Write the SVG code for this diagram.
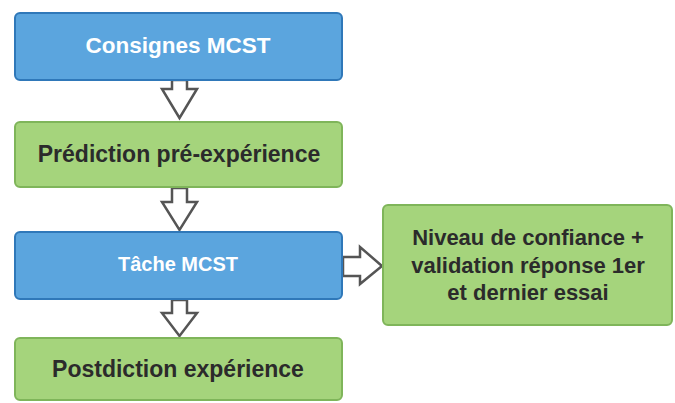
<svg xmlns="http://www.w3.org/2000/svg" width="675" height="403" viewBox="0 0 675 403">
<style>
.blue{fill:#5ba5de;stroke:#2f78b9;stroke-width:2}
.green{fill:#a5d47c;stroke:#7fb55a;stroke-width:2}
.wt{fill:#fff;font-family:"Liberation Sans",Arial,sans-serif;font-weight:bold;text-anchor:middle}
.dt{fill:#2b2b2b;font-family:"Liberation Sans",Arial,sans-serif;font-weight:bold;text-anchor:middle}
.arr{fill:#fff;stroke:#555;stroke-width:2.5;stroke-linejoin:miter}
</style>
<rect width="675" height="403" fill="#fff"/>
<g id="connectors">
<polygon class="arr" points="172,80 187,80 187,89 197,89 179.5,118 162,89 172,89"/>
<polygon class="arr" points="172,188 187,188 187,202 197,202 179.5,230 162,202 172,202"/>
<polygon class="arr" points="172,300 187,300 187,313 197,313 179.5,336 162,313 172,313"/>
<polygon class="arr" points="343,257 360,257 360,247 382,266 360,284 360,276 343,276"/>
</g>
<g id="n1"><rect class="blue" x="15" y="13" width="327" height="67" rx="5"/><text class="wt" x="178" y="53" font-size="22.5">Consignes MCST</text></g>
<g id="n2"><rect class="green" x="15" y="122" width="327" height="65" rx="5"/><text class="dt" x="179" y="162" font-size="23">Prédiction pré-expérience</text></g>
<g id="n3"><rect class="blue" x="15" y="232" width="327" height="67" rx="5"/><text class="wt" x="178" y="271" font-size="20">Tâche MCST</text></g>
<g id="n4"><rect class="green" x="15" y="338" width="327" height="62" rx="5"/><text class="dt" x="178" y="377" font-size="23">Postdiction expérience</text></g>
<g id="n5" font-size="22"><rect class="green" x="383" y="205" width="289" height="120" rx="5"/><text class="dt" x="528" y="245">Niveau de confiance +</text><text class="dt" x="528" y="273">validation réponse 1er</text><text class="dt" x="528" y="300">et dernier essai</text></g>
</svg>
